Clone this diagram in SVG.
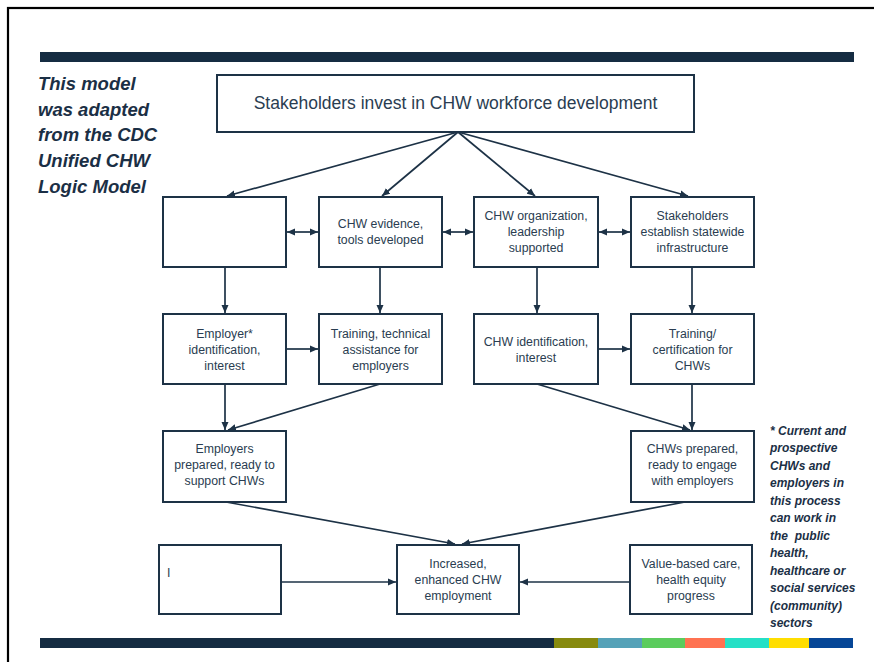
<svg xmlns="http://www.w3.org/2000/svg" width="874" height="662" viewBox="0 0 874 662">
<defs>
<marker id="ah" markerUnits="userSpaceOnUse" markerWidth="9" markerHeight="8" refX="8" refY="4" orient="auto-start-reverse">
<path d="M0,0.5 L8,4 L0,7.5 z" fill="#1d3246"/>
</marker>
</defs>
<style>
.box{fill:#fff;stroke:#1d3246;stroke-width:2}
.t{font-family:"Liberation Sans",Arial,sans-serif;font-size:12.3px;fill:#2a3d51;text-anchor:middle}
.big{font-size:17.5px}
.note{font-family:"Liberation Sans",Arial,sans-serif;font-weight:bold;font-style:italic;fill:#1b2f45}
.c line{stroke:#1d3246;stroke-width:1.7;marker-end:url(#ah)}
.c line.bi{marker-start:url(#ah)}
</style>
<rect width="874" height="662" fill="#fff"/>
<rect x="8" y="8" width="900" height="700" fill="none" stroke="#000" stroke-width="2.2"/>
<rect x="40" y="52" width="814" height="10" fill="#152c42"/>
<g id="bottom-bar">
<rect x="40" y="638" width="514" height="10" fill="#152c42"/>
<rect x="554" y="638" width="44" height="10" fill="#878a0e"/>
<rect x="598" y="638" width="44" height="10" fill="#55a2b8"/>
<rect x="642" y="638" width="43" height="10" fill="#5bcc5d"/>
<rect x="685" y="638" width="40" height="10" fill="#ff7251"/>
<rect x="725" y="638" width="44" height="10" fill="#25e0c6"/>
<rect x="769" y="638" width="40" height="10" fill="#ffde00"/>
<rect x="809" y="638" width="44" height="10" fill="#064697"/>
</g>
<g id="left-note" class="note" font-size="18.5">
<text x="38" y="90">This model</text>
<text x="38" y="115.7">was adapted</text>
<text x="38" y="141.4">from the CDC</text>
<text x="38" y="167">Unified CHW</text>
<text x="38" y="192.7">Logic Model</text>
</g>
<g id="right-note" class="note" font-size="12">
<text x="770" y="435">* Current and</text>
<text x="770" y="452.4">prospective</text>
<text x="770" y="469.9">CHWs and</text>
<text x="770" y="487.3">employers in</text>
<text x="770" y="504.8">this process</text>
<text x="770" y="522.2">can work in</text>
<text x="770" y="539.7" style="white-space:pre">the  public</text>
<text x="770" y="557.1">health,</text>
<text x="770" y="574.6">healthcare or</text>
<text x="770" y="592">social services</text>
<text x="770" y="609.5">(community)</text>
<text x="770" y="626.9">sectors</text>
</g>
<g id="connectors" class="c">
<line x1="458" y1="132" x2="227" y2="196"/>
<line x1="458" y1="132" x2="382" y2="196"/>
<line x1="458" y1="132" x2="535" y2="196"/>
<line x1="458" y1="132" x2="688" y2="196"/>
<line class="bi" x1="287" y1="232" x2="318" y2="232"/>
<line class="bi" x1="443" y1="232" x2="473" y2="232"/>
<line class="bi" x1="599" y1="232" x2="630" y2="232"/>
<line x1="225" y1="267" x2="225" y2="313"/>
<line x1="380" y1="267" x2="380" y2="313"/>
<line x1="537" y1="267" x2="537" y2="313"/>
<line x1="692" y1="267" x2="692" y2="313"/>
<line x1="286" y1="349" x2="318" y2="349"/>
<line x1="598" y1="349" x2="630" y2="349"/>
<line x1="225" y1="384" x2="225" y2="430"/>
<line x1="380" y1="384" x2="228" y2="430"/>
<line x1="537" y1="384" x2="690" y2="430"/>
<line x1="692" y1="384" x2="692" y2="430"/>
<line x1="226" y1="502" x2="455" y2="544"/>
<line x1="685" y1="502" x2="462" y2="544"/>
<line x1="281" y1="582" x2="396" y2="582"/>
<line x1="630" y1="582" x2="520" y2="582"/>
</g>
<g id="n-top"><rect class="box" x="217" y="75" width="477" height="57"/><text class="t big" x="455.5" y="109">Stakeholders invest in CHW workforce development</text></g>
<g id="n-r2a"><rect class="box" x="163" y="197" width="123" height="70"/></g>
<g id="n-r2b"><rect class="box" x="319" y="197" width="123" height="70"/><text class="t" x="380.5" y="228">CHW evidence,</text><text class="t" x="380.5" y="244">tools developed</text></g>
<g id="n-r2c"><rect class="box" x="474" y="197" width="124" height="70"/><text class="t" x="536" y="220">CHW organization,</text><text class="t" x="536" y="236">leadership</text><text class="t" x="536" y="252">supported</text></g>
<g id="n-r2d"><rect class="box" x="631" y="197" width="123" height="70"/><text class="t" x="692.5" y="220">Stakeholders</text><text class="t" x="692.5" y="236">establish statewide</text><text class="t" x="692.5" y="252">infrastructure</text></g>
<g id="n-r3a"><rect class="box" x="163" y="314" width="123" height="70"/><text class="t" x="224.5" y="338">Employer*</text><text class="t" x="224.5" y="354">identification,</text><text class="t" x="224.5" y="370">interest</text></g>
<g id="n-r3b"><rect class="box" x="319" y="314" width="123" height="70"/><text class="t" x="380.5" y="338">Training, technical</text><text class="t" x="380.5" y="354">assistance for</text><text class="t" x="380.5" y="370">employers</text></g>
<g id="n-r3c"><rect class="box" x="474" y="314" width="124" height="70"/><text class="t" x="536" y="346">CHW identification,</text><text class="t" x="536" y="362">interest</text></g>
<g id="n-r3d"><rect class="box" x="631" y="314" width="123" height="70"/><text class="t" x="692.5" y="338">Training/</text><text class="t" x="692.5" y="354">certification for</text><text class="t" x="692.5" y="370">CHWs</text></g>
<g id="n-r4a"><rect class="box" x="163" y="431" width="123" height="71"/><text class="t" x="224.5" y="453">Employers</text><text class="t" x="224.5" y="469">prepared, ready to</text><text class="t" x="224.5" y="485">support CHWs</text></g>
<g id="n-r4b"><rect class="box" x="631" y="431" width="123" height="71"/><text class="t" x="692.5" y="453">CHWs prepared,</text><text class="t" x="692.5" y="469">ready to engage</text><text class="t" x="692.5" y="485">with employers</text></g>
<g id="n-r5a"><rect class="box" x="159" y="545" width="122" height="69"/><text class="t" x="167" y="577" text-anchor="start" style="text-anchor:start">I</text></g>
<g id="n-r5b"><rect class="box" x="397" y="545" width="122" height="69"/><text class="t" x="458" y="568">Increased,</text><text class="t" x="458" y="584">enhanced CHW</text><text class="t" x="458" y="600">employment</text></g>
<g id="n-r5c"><rect class="box" x="630" y="545" width="122" height="69"/><text class="t" x="691" y="568">Value-based care,</text><text class="t" x="691" y="584">health equity</text><text class="t" x="691" y="600">progress</text></g>
</svg>
